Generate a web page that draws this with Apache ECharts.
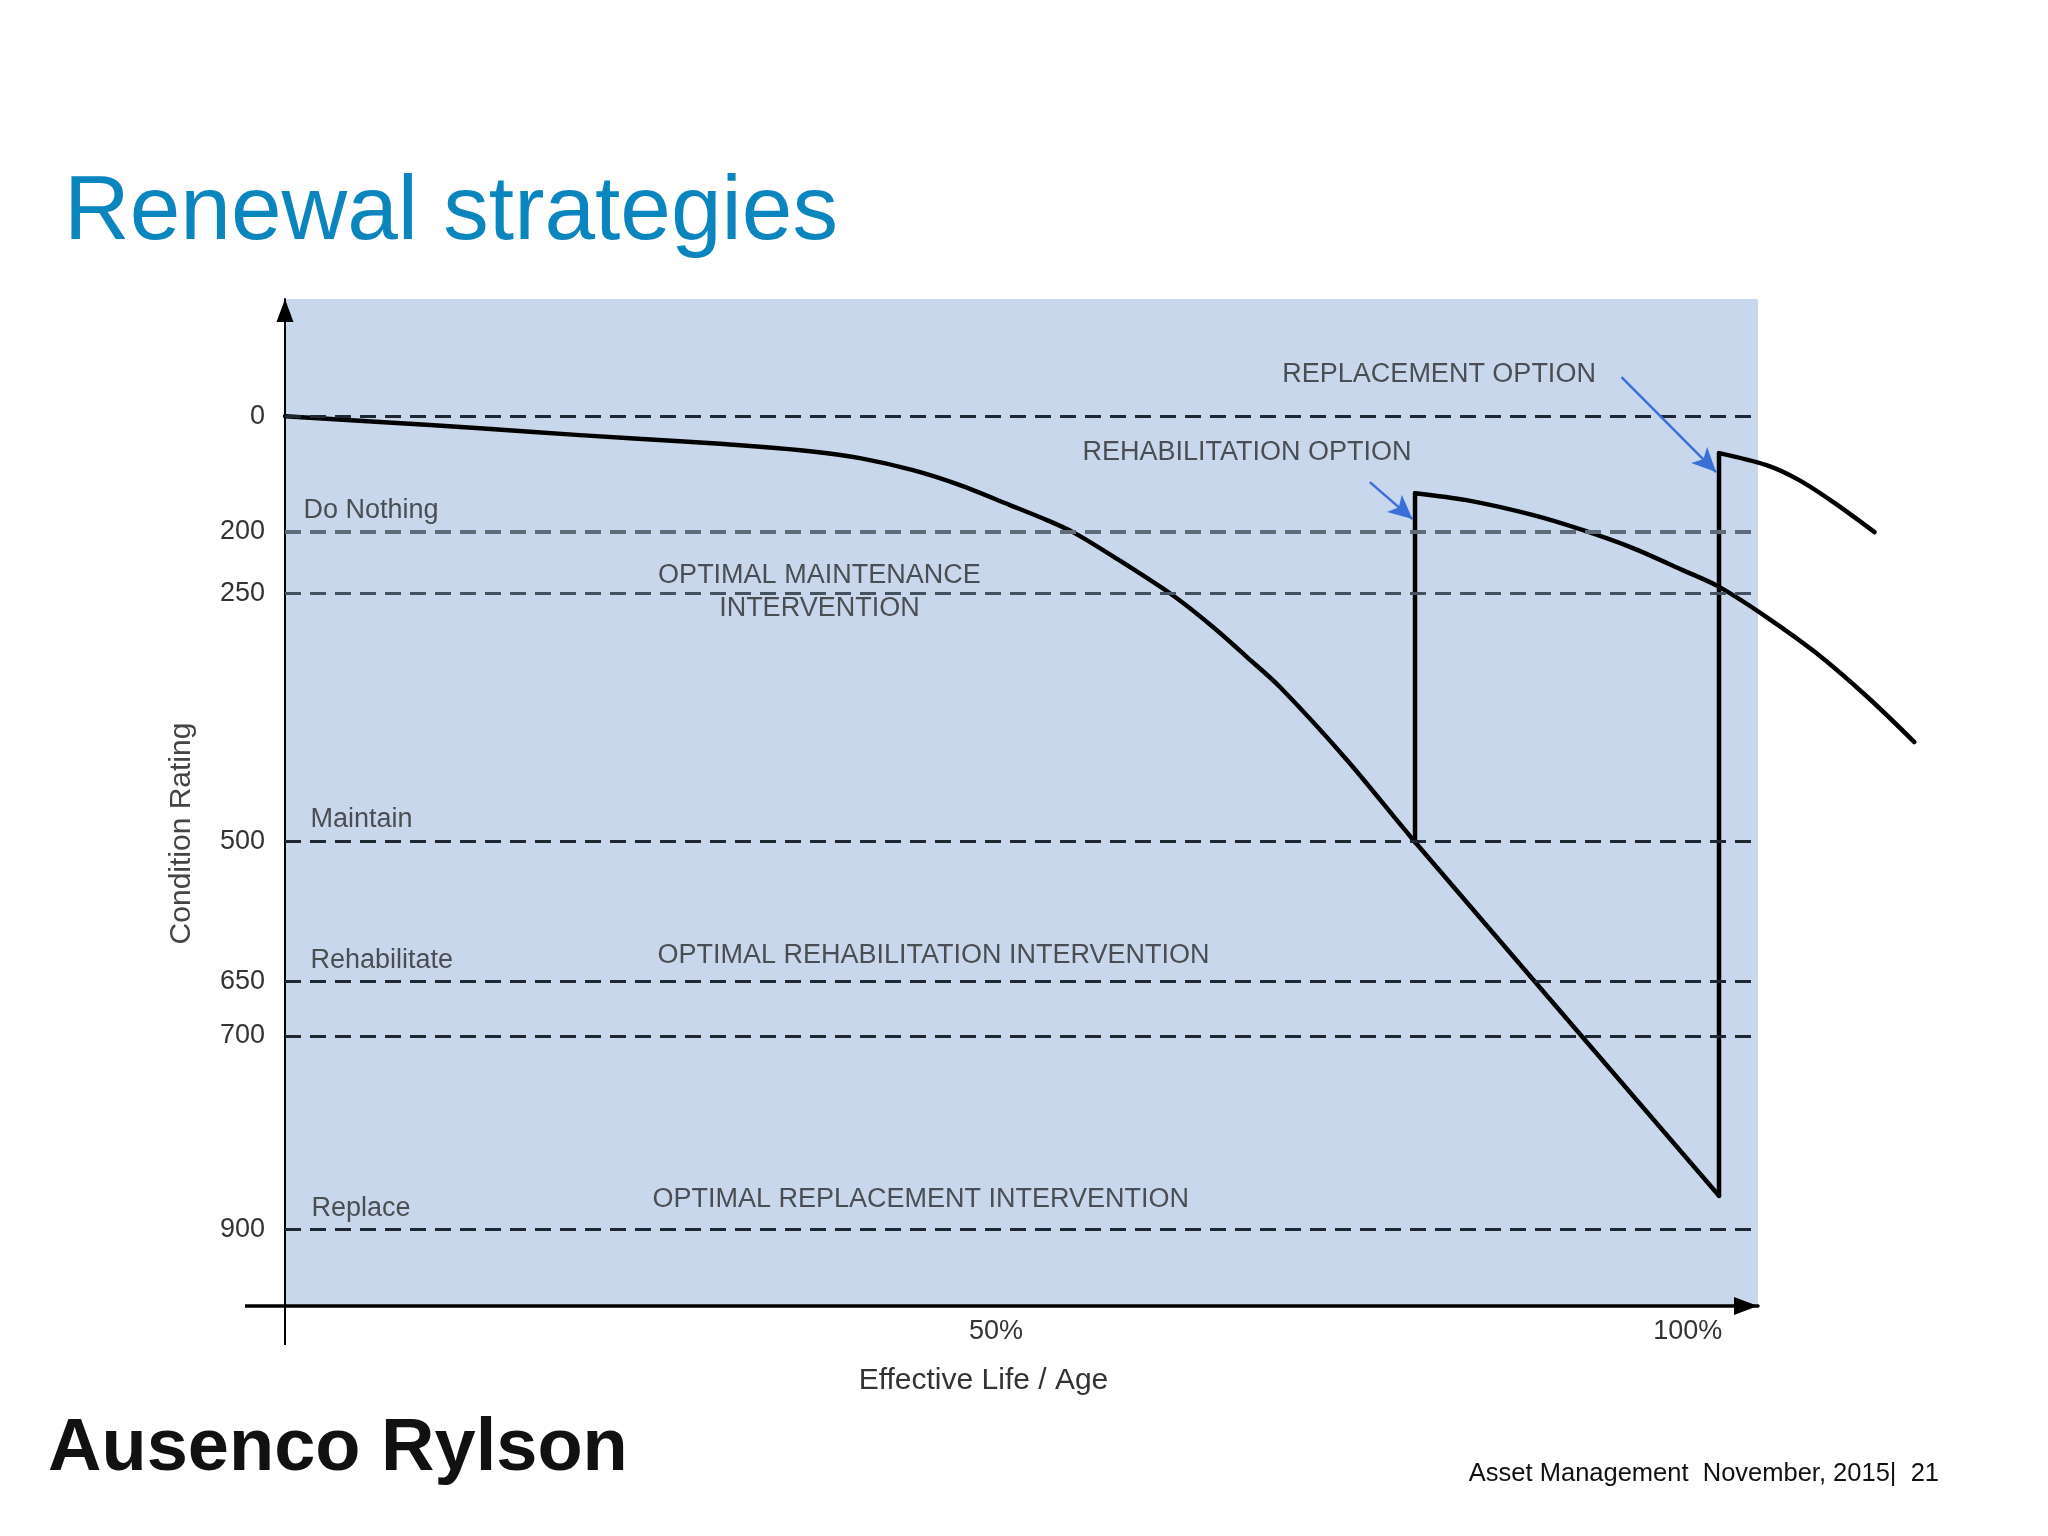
<!DOCTYPE html>
<html><head><meta charset="utf-8">
<script src="https://cdn.jsdelivr.net/npm/echarts@6/dist/echarts.min.js"></script>
<style>html,body{margin:0;padding:0;background:#fff}#c{width:2048px;height:1536px}</style>
</head><body><div id="c"></div>
<script>
// ---- data ----
// condition levels (tick labels) and where each dashed line sits on the (schematic) rating axis
const levelLabels = ['0', '200', '250', '500', '650', '700', '900'];
const levelRatings = [69, 187, 250, 503.5, 646, 702, 900];
// x-axis tick labels (% of effective life)
const xTickValues = [50, 100];
// deterioration curve (do nothing)
const deteriorationX = [0, 6.68, 13.71, 20.75, 27.78, 33.41, 36.93, 40.44, 44.17, 47.47, 50.99, 53.59, 55.42, 58.24, 62.46, 65.27, 67.66, 69.98, 74.69, 79.48, 100.86];
const deteriorationY = [68.7, 74.8, 81.0, 88.1, 94.3, 99.9, 104.5, 111.6, 123.9, 139.2, 159.6, 174.9, 187.2, 212.0, 252.0, 284.2, 314.9, 345.5, 420.0, 503.8, 865.4];
// rehabilitation option (jump up, then deteriorates again)
const rehabX = [79.48, 79.48, 83.1, 87.8, 91.3, 94.8, 98.3, 100.9, 104.2, 107.7, 111.3, 114.6];
const rehabY = [503.8, 147.4, 154.5, 169.8, 185.2, 203.5, 226.0, 243.4, 274.0, 310.8, 355.7, 401.7];
// replacement option
const replaceX = [100.86, 100.86, 104.2, 106.5, 108.9, 111.8];
const replaceY = [865.4, 106.5, 118.8, 134.1, 156.6, 187.2];
// annotations
const noteTexts = ['Do Nothing', 'OPTIMAL MAINTENANCE\nINTERVENTION', 'Maintain', 'Rehabilitate',
  'OPTIMAL REHABILITATION INTERVENTION', 'Replace', 'OPTIMAL REPLACEMENT INTERVENTION',
  'REHABILITATION OPTION', 'REPLACEMENT OPTION'];
const noteX = [1.34, 37.62, 1.83, 1.83, 26.23, 1.9, 25.88, 56.12, 70.18];
const noteY = [165.7, 248.5, 481.3, 625.3, 620.2, 878.6, 869.4, 106.5, 26.9];
const rehabArrowFrom = [76.3, 136.1], rehabArrowTo = [79.3, 173.9];
const replaceArrowFrom = [94.0, 28.9], replaceArrowTo = [100.65, 125.9];

// ---- chart ----
const FONT = '"Liberation Sans", Arial, sans-serif';
const X_MAX = 103.6;      // right edge of the shaded plot
const X_MAX_WIDE = 115.7; // same scale, wider drawing area for curves running past the plot
const Y_MIN = -51, Y_MAX = 978;
const pts = (xs, ys) => xs.map((x, i) => [x, ys[i]]);
const levelColor = l => (l === '200' ? '#5f6b78' : l === '250' ? '#46515f' : '#1f2733');
const levelWidth = l => (l === '200' ? 4 : 3);
const curve = (name, data, smooth) => ({
  type: 'line', name, data, smooth, symbol: 'none', clip: false, z: 3, silent: true,
  xAxisIndex: 1, yAxisIndex: 1,
  lineStyle: { color: '#000', width: 4.5, cap: 'round', join: 'round' }
});

const chart = echarts.init(document.getElementById('c'), null, { renderer: 'canvas', width: 2048, height: 1536 });
const option = {
  animation: false,
  backgroundColor: '#ffffff',
  title: [
    { text: 'Renewal strategies', left: 59, top: 159,
      textStyle: { fontFamily: FONT, fontSize: 91, fontWeight: 'normal', color: '#0B85BE', lineHeight: 100 } },
    { text: 'Ausenco Rylson', left: 43, top: 1400,
      textStyle: { fontFamily: FONT, fontSize: 74, fontWeight: 'bold', color: '#111', lineHeight: 90 } },
    { text: 'Asset Management  November, 2015|  21', right: 104, top: 1454,
      textStyle: { fontFamily: FONT, fontSize: 25.5, fontWeight: 'normal', color: '#111', lineHeight: 30 } }
  ],
  grid: [
    { left: 285, right: 290, top: 299, bottom: 230, show: true, backgroundColor: '#C9D7EC', borderWidth: 0 },
    { left: 285, right: 118, top: 299, bottom: 230, show: false }
  ],
  xAxis: [{
    type: 'value', gridIndex: 0, min: 0, max: X_MAX,
    name: 'Effective Life / Age', nameLocation: 'middle', nameGap: 60,
    nameTextStyle: { fontFamily: FONT, fontSize: 30, color: '#333', padding: [0, 76, 0, 0] },
    axisLine: { show: true, onZero: false, symbol: ['none', 'triangle'], symbolSize: [18, 24], symbolOffset: [0, -12],
      lineStyle: { color: '#000', width: 3.5 } },
    axisTick: { show: true, customValues: [0], length: 39, lineStyle: { color: '#000', width: 2 } },
    axisLabel: { customValues: xTickValues, formatter: v => (v === 100 ? '{s|100%}' : v + '%'),
      fontFamily: FONT, fontSize: 27, color: '#333', margin: 12,
      rich: { s: { fontFamily: FONT, fontSize: 27, color: '#333', padding: [0, 38, 0, 0] } } },
    splitLine: { show: false }
  }, {
    type: 'value', gridIndex: 1, min: 0, max: X_MAX_WIDE, show: false
  }],
  yAxis: [{
    type: 'value', gridIndex: 0, inverse: true, min: Y_MIN, max: Y_MAX,
    name: 'Condition Rating', nameLocation: 'middle', nameRotate: 90, nameGap: 88,
    nameTextStyle: { fontFamily: FONT, fontSize: 30, color: '#444', padding: [0, 62, 0, 0] },
    axisLine: { show: true, onZero: false, symbol: ['none', 'triangle'], symbolSize: [17, 23], symbolOffset: [0, -11.5],
      lineStyle: { color: '#000', width: 2 } },
    axisTick: { show: true, customValues: [Y_MAX], length: 40, lineStyle: { color: '#000', width: 3.5 } },
    axisLabel: { show: false },
    splitLine: { show: false }
  }, {
    type: 'value', gridIndex: 1, inverse: true, min: Y_MIN, max: Y_MAX, show: false
  }],
  series: [
    { type: 'line', name: 'levels', data: [], z: 1, silent: true,
      markLine: { silent: true, symbol: ['none', 'none'], animation: false,
        data: levelRatings.map((v, i) => ({
          yAxis: v,
          lineStyle: { color: levelColor(levelLabels[i]), width: levelWidth(levelLabels[i]), type: [16, 9] },
          label: { show: true, position: 'start', formatter: levelLabels[i], distance: 20,
            color: '#333', fontSize: 27, fontFamily: FONT }
        })) } },
    curve('Deterioration', pts(deteriorationX, deteriorationY), 0.3),
    curve('Rehabilitation jump', pts(rehabX.slice(0, 2), rehabY.slice(0, 2)), false),
    curve('After rehabilitation', pts(rehabX.slice(1), rehabY.slice(1)), 0.3),
    curve('Replacement jump', pts(replaceX.slice(0, 2), replaceY.slice(0, 2)), false),
    curve('After replacement', pts(replaceX.slice(1), replaceY.slice(1)), 0.3),
    { type: 'scatter', name: 'notes', z: 4, symbolSize: 1, silent: true, clip: false,
      itemStyle: { color: 'rgba(0,0,0,0)' },
      data: noteTexts.map((t, i) => ({
        value: [noteX[i], noteY[i]],
        label: { show: true, formatter: t, position: [0, 0], align: t.includes('\n') ? 'center' : 'left',
          verticalAlign: 'middle', fontFamily: FONT, fontSize: 27, color: '#2b2b2b', lineHeight: 33 }
      })),
      markLine: { silent: true, symbol: ['none', 'arrow'], symbolSize: [17, 24], label: { show: false },
        lineStyle: { color: '#3A6FD8', width: 2.5, type: 'solid' },
        data: [[{ coord: rehabArrowFrom }, { coord: rehabArrowTo }],
               [{ coord: replaceArrowFrom }, { coord: replaceArrowTo }]] } }
  ]
};
chart.setOption(option);
</script>
</body></html>
